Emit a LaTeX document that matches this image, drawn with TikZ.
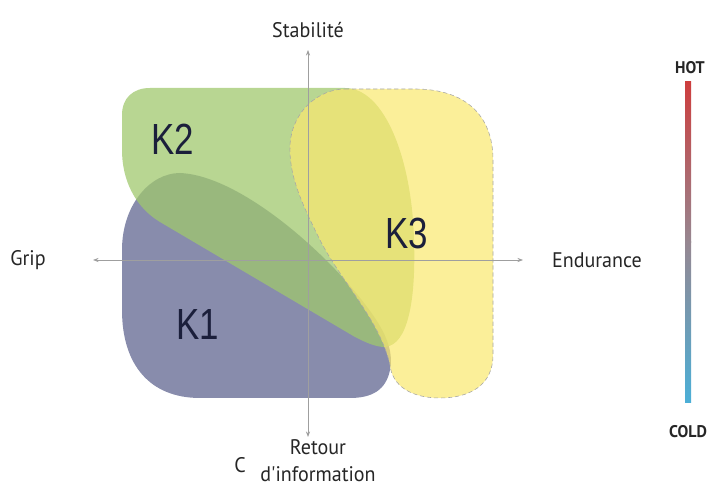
\documentclass[tikz,border=0pt]{standalone}
\usepackage{fontspec}
\setmainfont{Liberation Sans}
\newfontfamily\axisfont[FakeStretch=0.95]{PT Sans}
\newfontfamily\clusterfont[FakeStretch=0.8]{Liberation Sans}
\usetikzlibrary{arrows.meta}

\definecolor{kone}{RGB}{136,140,172}
\definecolor{ktwo}{RGB}{160,200,110}
\definecolor{kthree}{RGB}{250,232,110}
\definecolor{knavy}{RGB}{27,31,59}
\definecolor{hot}{RGB}{205,62,62}
\definecolor{mid}{RGB}{150,135,145}
\definecolor{cold}{RGB}{75,175,215}

\begin{document}
\begin{tikzpicture}[
  x=0.025cm, y=-0.025cm,
  every node/.style={font=\axisfont\fontsize{15}{19}\selectfont, text=black!85},
  axis/.style={gray!75, line width=0.5pt, -{Stealth[length=4pt,width=3pt]}},
  cluster/.style={font=\clusterfont\fontsize{31}{33}\selectfont, text=knavy},
  scale label/.style={font=\axisfont\bfseries\fontsize{12}{14}\selectfont},
]
% canvas 710 x 490 px
\useasboundingbox (0,0) rectangle (710,490);

% K1 (blue, bottom left)
\fill[kone] (180,173) .. controls (230,175) and (300,230) .. (345,280)
  .. controls (380,320) and (395,345) .. (390,370)
  .. controls (386,390) and (372,398) .. (350,398) -- (200,398)
  .. controls (150,398) and (122,365) .. (122,310) -- (122,250)
  .. controls (122,205) and (150,173) .. (180,173) -- cycle;

% K2 (green, top left)
\fill[ktwo, fill opacity=0.75] (150,88) -- (345,88)
  .. controls (385,88) and (412,160) .. (414,240)
  .. controls (416,300) and (408,345) .. (385,347)
  .. controls (375,347) and (365,342) .. (355,337) -- (160,222)
  .. controls (135,207) and (122,180) .. (122,150) -- (122,115)
  .. controls (122,98) and (133,88) .. (150,88) -- cycle;

% K3 (yellow, right)
\filldraw[fill=kthree, fill opacity=0.7, draw=gray!70, densely dashed, line width=0.4pt]
  (345,89) -- (415,89) .. controls (465,89) and (493,115) .. (493,160) -- (493,355)
  .. controls (493,385) and (470,398) .. (440,398)
  .. controls (410,398) and (392,385) .. (390,365)
  .. controls (380,320) and (340,280) .. (320,240)
  .. controls (300,200) and (289,175) .. (290,145)
  .. controls (292,110) and (320,89) .. (345,89) -- cycle;

% axes
\coordinate (o) at (308,260);
\coordinate (up) at (308,50);
\coordinate (down) at (308,437);
\coordinate (left) at (93,260);
\coordinate (right) at (523,260);
\foreach \tip in {up,down,left,right}
  \draw[axis] (o) -- (\tip);

% axis labels
\node (stab) at (308,30) {Stabilité};
\node (grip) at (28,260) {Grip};
\node (endu) at (597,260) {Endurance};
\node[align=center, inner sep=1pt] (ret) at (318,461) {Retour\\d'information};
\node (c) at (240,465) {C};

% cluster labels
\node[cluster] (k1) at (198,325) {K1};
\node[cluster] (k2) at (173,139) {K2};
\node[cluster] (k3) at (407,233) {K3};

% hot/cold scale
\shade[top color=hot, bottom color=mid] (685,82) rectangle (691,243);
\shade[top color=mid, bottom color=cold] (685,242) rectangle (691,403);
\node[scale label] (hot) at (690,68) {HOT};
\node[scale label] (cold) at (688,432) {COLD};

\end{tikzpicture}
\end{document}
